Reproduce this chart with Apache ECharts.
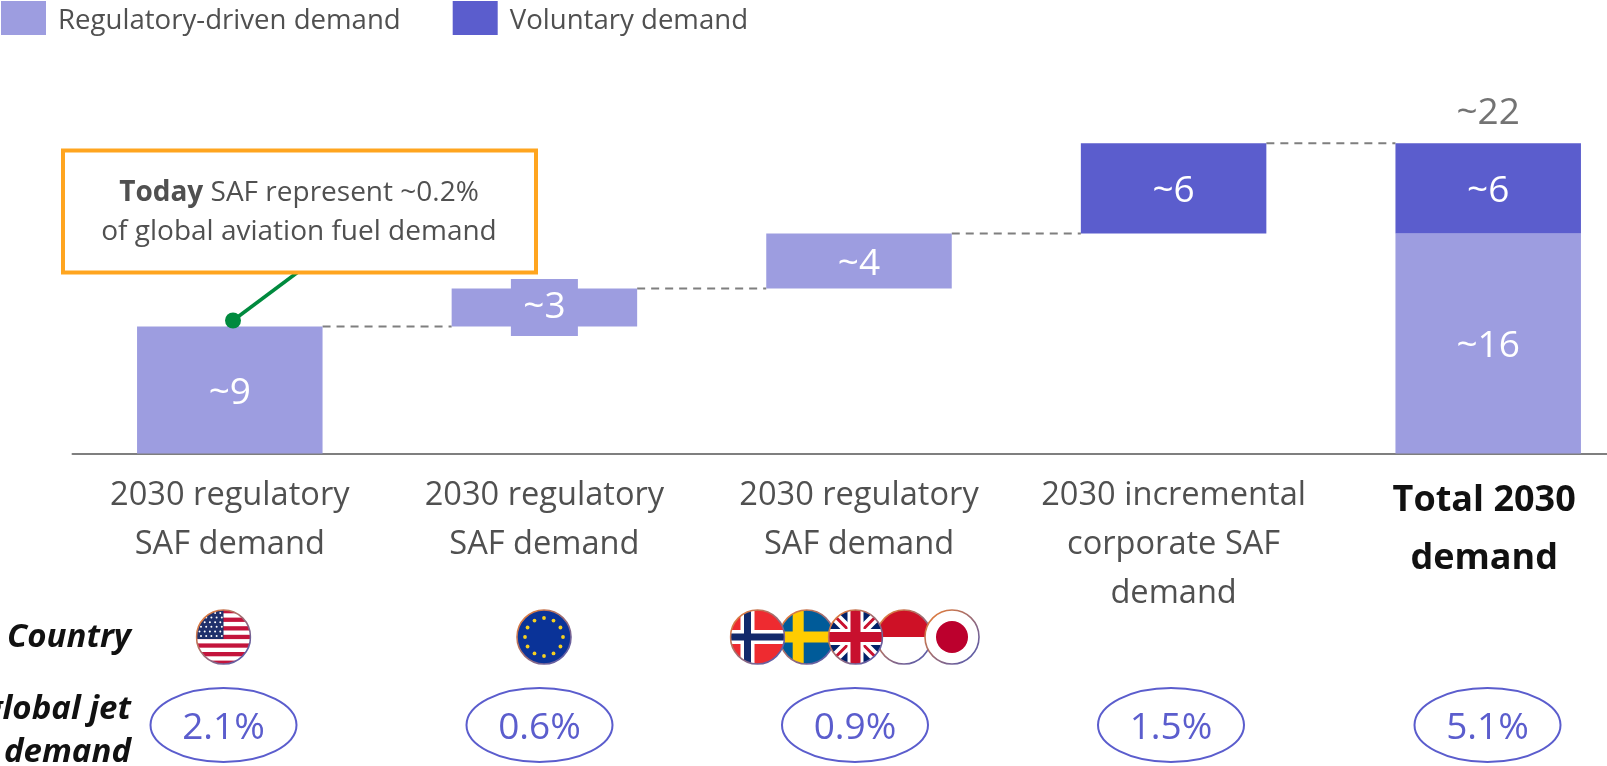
<!DOCTYPE html>
<html>
<head>
<meta charset="utf-8">
<title>2030 SAF demand</title>
<script src="https://cdn.jsdelivr.net/npm/echarts@6/dist/echarts.min.js"></script>
<style>
  html, body { margin: 0; padding: 0; background: #fff; overflow: hidden; }
  /* the axis runs past the right edge of the window, so the chart is wider than it */
  #chart { width: 1646px; height: 766px; }
</style>
</head>
<body>
<div id="chart"></div>
<script>
const categories = [
  '2030 regulatory\nSAF demand',
  '2030 regulatory\nSAF demand',
  '2030 regulatory\nSAF demand',
  '2030 incremental\ncorporate SAF\ndemand',
  'Total 2030\ndemand'
]
const offsetValues = [0, 9, 11.7, 15.6, 0]
const regulatoryValues = [9, 2.7, 3.9, null, 15.6]
const voluntaryValues = [null, null, null, 6.4, 6.4]
const regulatoryLabels = ['~9', '~3', '~4', '', '~16']
const voluntaryLabels = ['', '', '', '~6', '~6']
const totalValues = [null, null, null, null, 22]
const totalLabels = ['', '', '', '', '~22']
const connectorLevels = [9, 11.7, 15.6, 22]
const shareLabels = ['2.1%', '0.6%', '0.9%', '1.5%', '5.1%']
const shareX = [223.5, 539.5, 855, 1171, 1487.5]

const FONT = '"Open Sans", sans-serif'
const LIGHT = '#9D9DE0'
const DARK = '#5B5DCD'
const GREY = '#505050'
const BAR_WIDTH = 185.5

// flags are pictures in the original, so they stay small svg images
const flagSvg = (inner) => {
  const svg = '<svg xmlns="http://www.w3.org/2000/svg" width="56" height="56" viewBox="0 0 56 56">' +
    '<defs><clipPath id="c"><circle cx="28" cy="28" r="27"/></clipPath>' +
    '<linearGradient id="g" x1="0" y1="0" x2="1" y2="1"><stop offset="0" stop-color="#F08030"/><stop offset="1" stop-color="#4A58B8"/></linearGradient></defs>' +
    '<g clip-path="url(#c)"><rect width="56" height="56" fill="#fff"/>' + inner + '</g>' +
    '<circle cx="28" cy="28" r="27" fill="none" stroke="url(#g)" stroke-width="1.6"/></svg>'
  return 'data:image/svg+xml;charset=utf-8,' + encodeURIComponent(svg)
}

const usFlag = () => {
  let s = ''
  for (let i = 0; i < 7; i++) s += `<rect y="${i * 8.6}" width="56" height="4.3" fill="#C3143C"/>`
  s += '<rect width="28" height="30" fill="#1F2F6B"/>'
  for (let r = 0; r < 6; r++) {
    for (let c = 0; c < 5; c++) {
      s += `<circle cx="${4 + c * 5.2 + (r % 2) * 1.5}" cy="${4 + r * 4.6}" r="1" fill="#fff"/>`
    }
  }
  return s
}

const euFlag = () => {
  let s = '<rect width="56" height="56" fill="#0A3398"/>'
  for (let i = 0; i < 12; i++) {
    const a = i * Math.PI / 6
    s += `<circle cx="${28 + 19 * Math.cos(a)}" cy="${28 + 19 * Math.sin(a)}" r="1.9" fill="#F5D020"/>`
  }
  return s
}

const flags = {
  us: usFlag(),
  eu: euFlag(),
  no: '<rect width="56" height="56" fill="#EE2B30"/><rect x="11" width="14" height="56" fill="#fff"/><rect y="21" width="56" height="14" fill="#fff"/><rect x="14.5" width="7" height="56" fill="#12296B"/><rect y="24.5" width="56" height="7" fill="#12296B"/>',
  se: '<rect width="56" height="56" fill="#005B99"/><rect x="14" width="11" height="56" fill="#FFCC00"/><rect y="22.5" width="56" height="11" fill="#FFCC00"/>',
  uk: '<rect width="56" height="56" fill="#012169"/><path d="M0 0L56 56M56 0L0 56" stroke="#fff" stroke-width="10"/><path d="M0 0L56 56M56 0L0 56" stroke="#C8102E" stroke-width="3"/><rect x="20" width="16" height="56" fill="#fff"/><rect y="20" width="56" height="16" fill="#fff"/><rect x="23" width="10" height="56" fill="#C8102E"/><rect y="23" width="56" height="10" fill="#C8102E"/>',
  id: '<rect width="56" height="28" fill="#CE1126"/>',
  jp: '<circle cx="28" cy="28" r="16" fill="#BC002D"/>'
}

// drawing order matches the overlaps in the reference
const flagRow = [
  ['us', 223.5], ['eu', 544], ['se', 806.7], ['no', 757.5],
  ['id', 904], ['uk', 855.5], ['jp', 952]
]

const chart = echarts.init(document.getElementById('chart'), null, { renderer: 'canvas' })

const graphic = [
  // callout
  { type: 'line', z: 20, shape: { x1: 233, y1: 320.5, x2: 298, y2: 272 }, style: { stroke: '#008A3E', lineWidth: 3.5 } },
  { type: 'circle', z: 21, shape: { cx: 233, cy: 320.5, r: 8 }, style: { fill: '#008A3E' } },
  { type: 'rect', z: 22, shape: { x: 63, y: 150.5, width: 473, height: 122 }, style: { fill: '#fff', stroke: '#FFA51F', lineWidth: 4 } },
  {
    type: 'text', z: 23, x: 299, y: 213,
    style: {
      text: '{b|Today }{n|SAF represent ~0.2%}\n{n|of global aviation fuel demand}',
      align: 'center', verticalAlign: 'middle',
      rich: {
        b: { font: 'bold 28px ' + FONT, fill: GREY, lineHeight: 39 },
        n: { font: '28px ' + FONT, fill: GREY, lineHeight: 39 }
      }
    }
  },
  // row titles, the second one runs off the left edge in the reference
  { type: 'text', x: 131, y: 638, style: { text: 'Country', align: 'right', verticalAlign: 'middle', font: 'italic bold 33px ' + FONT, fill: '#111' } },
  { type: 'text', x: 131, y: 710, style: { text: '% of global jet', align: 'right', verticalAlign: 'middle', font: 'italic bold 33px ' + FONT, fill: '#111' } },
  { type: 'text', x: 131, y: 753, style: { text: 'demand', align: 'right', verticalAlign: 'middle', font: 'italic bold 33px ' + FONT, fill: '#111' } }
]

flagRow.forEach(([code, x]) => {
  graphic.push({ type: 'image', style: { image: flagSvg(flags[code]), x: x - 28, y: 609, width: 56, height: 56 } })
})

shareLabels.forEach((label, i) => {
  graphic.push({ type: 'ellipse', shape: { cx: shareX[i], cy: 725, rx: 73, ry: 37 }, style: { fill: '#fff', stroke: DARK, lineWidth: 2 } })
  graphic.push({ type: 'text', z: 5, x: shareX[i], y: 728, style: { text: label, align: 'center', verticalAlign: 'middle', font: '37px ' + FONT, fill: DARK } })
})

const barLabel = (labels) => ({
  show: true,
  position: 'inside',
  offset: [0, 3],
  color: '#fff',
  fontFamily: FONT,
  fontSize: 37,
  formatter: (p) => labels[p.dataIndex]
})

const option = {
  animation: false,
  backgroundColor: '#fff',
  legend: {
    data: ['Regulatory-driven demand', 'Voluntary demand'],
    left: 1,
    top: 1,
    padding: 0,
    itemWidth: 45,
    itemHeight: 34,
    itemGap: 52,
    icon: 'rect',
    selectedMode: false,
    formatter: (name) => `{a|${name}}`,
    textStyle: {
      padding: [0, 0, 0, 7],
      rich: { a: { color: GREY, fontFamily: FONT, fontSize: 27.6, padding: [6, 0, 0, 0] } }
    }
  },
  grid: { left: 72.5, top: 143.3, width: 1573, height: 310.2 },
  xAxis: {
    type: 'category',
    data: categories.map((name, i) => i === 4
      ? { value: name, textStyle: { fontWeight: 'bold', fontSize: 36, color: '#111', lineHeight: 58, padding: [0, 8, 0, 0] } }
      : name),
    axisTick: { show: false },
    axisLine: { lineStyle: { color: '#7F7F7F', width: 2 } },
    axisLabel: { interval: 0, margin: 18, color: GREY, fontFamily: FONT, fontSize: 32.6, lineHeight: 49 }
  },
  yAxis: { type: 'value', min: 0, max: 22, show: false },
  series: [
    {
      name: 'offset',
      type: 'bar',
      stack: 'waterfall',
      barWidth: BAR_WIDTH,
      itemStyle: { color: 'transparent' },
      silent: true,
      data: offsetValues
    },
    {
      name: 'Regulatory-driven demand',
      type: 'bar',
      stack: 'waterfall',
      barWidth: BAR_WIDTH,
      itemStyle: { color: LIGHT },
      label: barLabel(regulatoryLabels),
      data: regulatoryValues.map((v, i) => i === 1
        ? { value: v, label: { offset: [0, 0], backgroundColor: LIGHT, width: 67, height: 57, lineHeight: 57, align: 'center', verticalAlign: 'middle' } }
        : v)
    },
    {
      name: 'Voluntary demand',
      type: 'bar',
      stack: 'waterfall',
      barWidth: BAR_WIDTH,
      itemStyle: { color: DARK },
      label: barLabel(voluntaryLabels),
      data: voluntaryValues
    },
    {
      name: 'total',
      type: 'scatter',
      symbolSize: 0,
      silent: true,
      label: {
        show: true,
        position: 'top',
        distance: 11,
        color: GREY,
        fontFamily: FONT,
        fontSize: 37,
        formatter: (p) => totalLabels[p.dataIndex]
      },
      data: totalValues
    },
    {
      // dashed connectors between neighbouring bars
      name: 'connectors',
      type: 'custom',
      silent: true,
      clip: false,
      data: connectorLevels.map((v, i) => [i, v]),
      encode: { x: 0, y: 1 },
      renderItem: (params, api) => {
        const a = api.coord([api.value(0), api.value(1)])
        const b = api.coord([api.value(0) + 1, api.value(1)])
        return {
          type: 'line',
          shape: { x1: a[0] + BAR_WIDTH / 2, y1: a[1], x2: b[0] - BAR_WIDTH / 2, y2: b[1] },
          style: { stroke: '#7F7F7F', lineWidth: 2, lineDash: [8, 6] }
        }
      }
    }
  ],
  graphic
}

chart.setOption(option)
</script>
</body>
</html>
